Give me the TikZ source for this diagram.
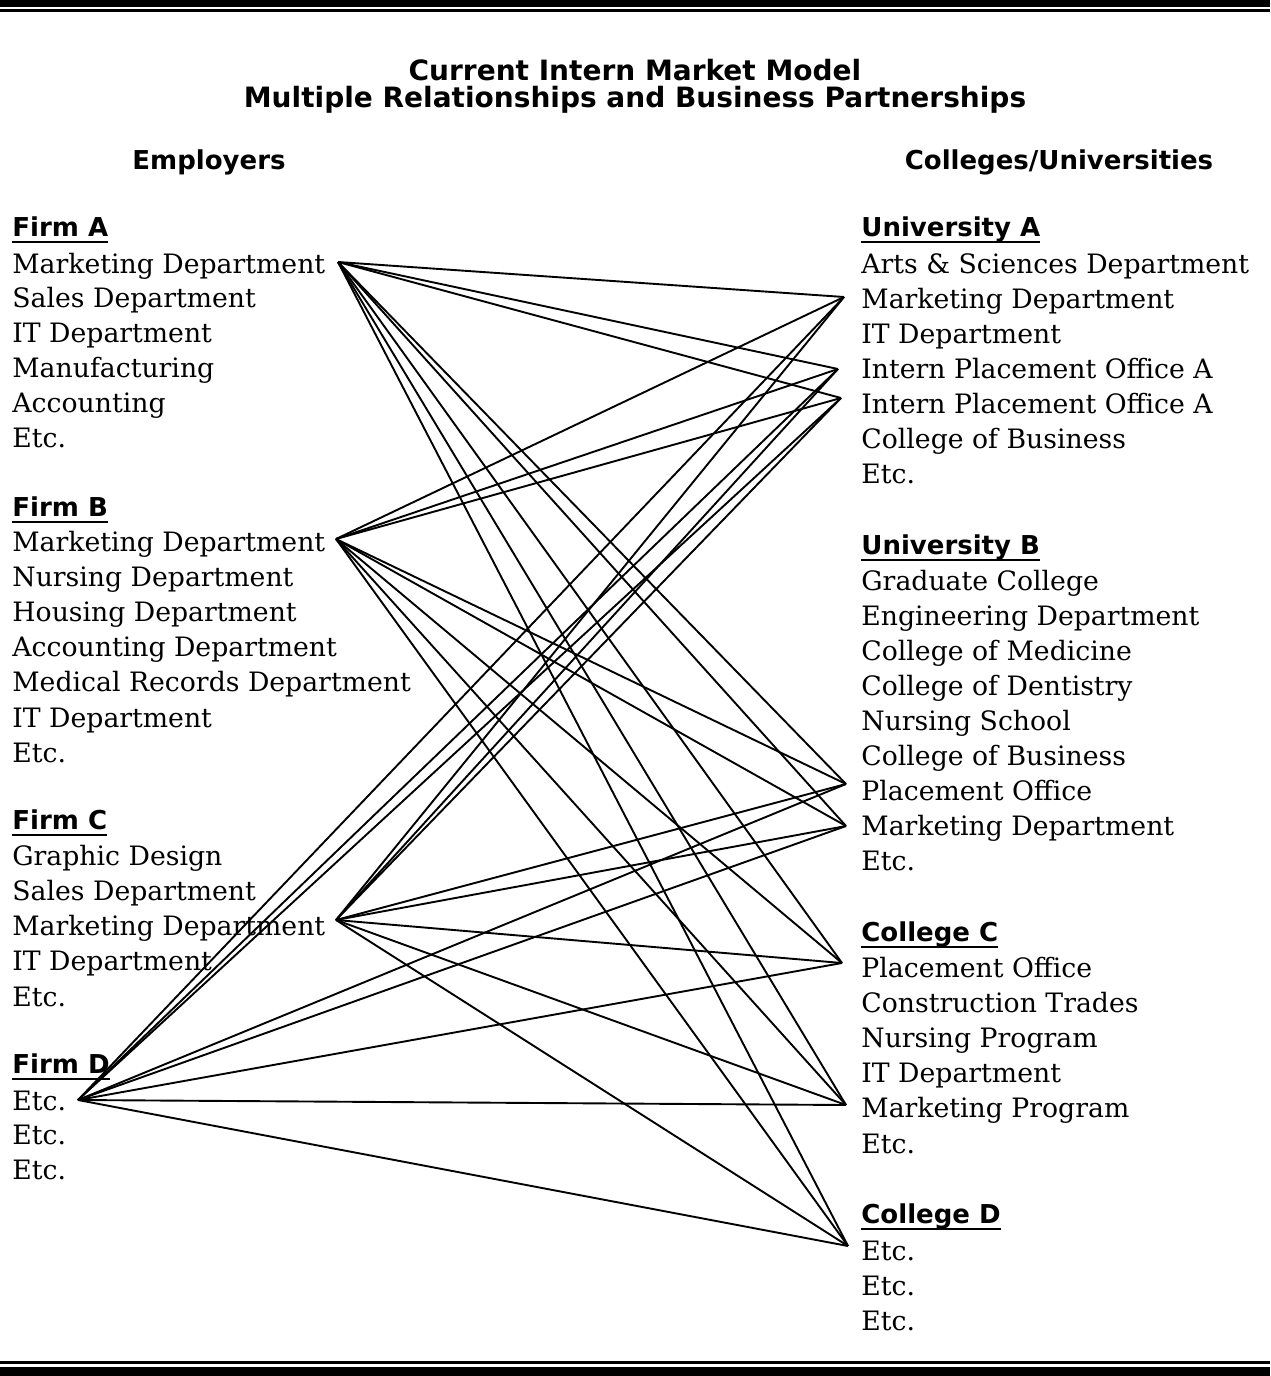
\documentclass[tikz,border=0pt]{standalone}
\usepackage{fontspec}
\setmainfont{DejaVu Serif}
\setsansfont{DejaVu Sans}
\newcommand\headul[1]{\setbox0\hbox{#1}\rlap{\rule[-3.5pt]{\wd0}{1pt}}\box0}
\tikzset{
  body/.style={anchor=base west, inner sep=0pt, font=\fontsize{13.35}{17.5}\selectfont},
  head/.style={anchor=base west, inner sep=0pt, font=\sffamily\bfseries\fontsize{13}{16}\selectfont},
  caption/.style={anchor=base, inner sep=0pt, font=\sffamily\bfseries\fontsize{13}{16}\selectfont},
  titletext/.style={anchor=base, inner sep=0pt, font=\sffamily\bfseries\fontsize{14}{17}\selectfont},
  link/.style={draw=black, line width=0.95pt}
}
\begin{document}
\begin{tikzpicture}[x=0.5pt, y=-0.5pt]
\useasboundingbox (0,0) rectangle (1270,1376);
% borders
\fill[black] (0,0) rectangle (1270,7);
\fill[black] (0,9) rectangle (1270,12);
\fill[black] (0,1361) rectangle (1270,1364);
\fill[black] (0,1367) rectangle (1270,1376);
% title
\node[titletext] (t1) at (635,80) {Current Intern Market Model};
\node[titletext] (t2) at (635,107) {Multiple Relationships and Business Partnerships};
\node[caption] (emp) at (209,169) {Employers};
\node[caption] (col) at (1059,169) {Colleges/Universities};
% left column
\node[head] (hA) at (12,236) {\headul{Firm A}};
\foreach \t [count=\i] in {Marketing Department, Sales Department, IT Department, Manufacturing, Accounting, Etc.}
  \node[body] (fa\i) at (12,{273+34.8*(\i-1)}) {\t};
\node[head] (hB) at (12,516) {\headul{Firm B}};
\foreach \t [count=\i] in {Marketing Department, Nursing Department, Housing Department, Accounting Department, Medical Records Department, IT Department, Etc.}
  \node[body] (fb\i) at (12,{551+35.2*(\i-1)}) {\t};
\node[head] (hC) at (12,829) {\headul{Firm C}};
\foreach \t [count=\i] in {Graphic Design, Sales Department, Marketing Department, IT Department, Etc.}
  \node[body] (fc\i) at (12,{865+35.3*(\i-1)}) {\t};
\node[head] (hD) at (12,1073) {\headul{Firm D}};
\foreach \t [count=\i] in {Etc., Etc., Etc.}
  \node[body] (fd\i) at (12,{1110+34.7*(\i-1)}) {\t};
% right column
\node[head] (hUA) at (861,236) {\headul{University A}};
\foreach \t [count=\i] in {Arts \& Sciences Department, Marketing Department, IT Department, Intern Placement Office A, Intern Placement Office A, College of Business, Etc.}
  \node[body] (ua\i) at (861,{273+35*(\i-1)}) {\t};
\node[head] (hUB) at (861,554) {\headul{University B}};
\foreach \t [count=\i] in {Graduate College, Engineering Department, College of Medicine, College of Dentistry, Nursing School, College of Business, Placement Office, Marketing Department, Etc.}
  \node[body] (ub\i) at (861,{590+35.1*(\i-1)}) {\t};
\node[head] (hCC) at (861,941) {\headul{College C}};
\foreach \t [count=\i] in {Placement Office, Construction Trades, Nursing Program, IT Department, Marketing Program, Etc.}
  \node[body] (cc\i) at (861,{977+35.2*(\i-1)}) {\t};
\node[head] (hCD) at (861,1223) {\headul{College D}};
\foreach \t [count=\i] in {Etc., Etc., Etc.}
  \node[body] (cd\i) at (861,{1260+35*(\i-1)}) {\t};
% hubs
\coordinate (A) at (338,262);
\coordinate (B) at (336,539);
\coordinate (C) at (336,920);
\coordinate (D) at (78,1100);
\coordinate (R1) at (844,297);
\coordinate (R2) at (838,369);
\coordinate (R3) at (841,398);
\coordinate (R4) at (846,784);
\coordinate (R5) at (846,826);
\coordinate (R6) at (842,963);
\coordinate (R7) at (846,1105);
\coordinate (R8) at (848,1246);
\foreach \l in {A,B,C,D}
  \foreach \r in {R1,R2,R3,R4,R5,R6,R7,R8}
    \draw[link] (\l) -- (\r);
\end{tikzpicture}
\end{document}
